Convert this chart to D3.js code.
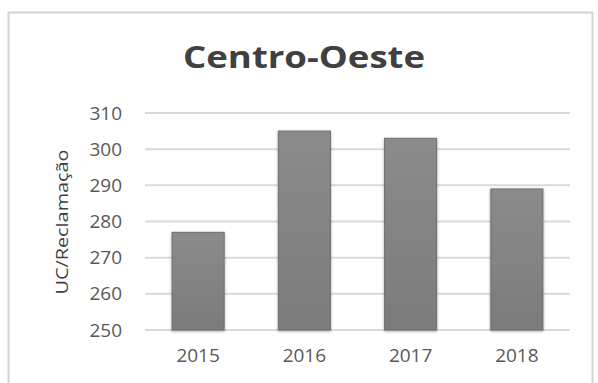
<!DOCTYPE html>
<html><head><meta charset="utf-8">
<script src="https://cdn.jsdelivr.net/npm/d3@7"></script>
<style>html,body{margin:0;padding:0;background:#fff;}</style>
</head><body>
<svg id="c" width="598" height="383"></svg>
<script>
const categories = ["2015", "2016", "2017", "2018"];
const values = [277, 305, 303, 289];
const yTicks = [250, 260, 270, 280, 290, 300, 310];
const title = "Centro-Oeste";
const yTitle = "UC/Reclamação";

const svg = d3.select("#c");
const font = "'Open Sans', 'Liberation Sans', sans-serif";

const defs = svg.append("defs");
const grad = defs.append("linearGradient").attr("id","bg").attr("x1",0).attr("y1",0).attr("x2",0).attr("y2",1);
grad.append("stop").attr("offset","0%").attr("stop-color","#8b8b8b");
grad.append("stop").attr("offset","100%").attr("stop-color","#7b7b7b");
const f = defs.append("filter").attr("id","sh").attr("x","-20%").attr("y","-20%").attr("width","140%").attr("height","140%");
f.append("feGaussianBlur").attr("in","SourceAlpha").attr("stdDeviation",1.5).attr("result","b");
f.append("feOffset").attr("in","b").attr("dx",0).attr("dy",1).attr("result","o");
f.append("feComponentTransfer").attr("in","o").attr("result","o2").append("feFuncA").attr("type","linear").attr("slope",0.35);
const m = f.append("feMerge"); m.append("feMergeNode").attr("in","o2"); m.append("feMergeNode").attr("in","SourceGraphic");

// border
svg.append("rect").attr("x",8.5).attr("y",12.5).attr("width",584).attr("height",380)
  .attr("fill","#fff").attr("stroke","#d4d4d4").attr("stroke-width",2);

const x = d3.scaleBand().domain(categories).range([145, 570]).paddingInner(0.51).paddingOuter(0.255);
const y = d3.scaleLinear().domain([250, 310]).range([330, 113]);

// gridlines
svg.append("g").selectAll("line").data(yTicks).join("line")
  .attr("x1",145).attr("x2",570).attr("y1",d=>y(d)).attr("y2",d=>y(d))
  .attr("stroke","#d9d9d9").attr("stroke-width",2);

// y axis labels
const yAxis = d3.axisLeft(y).tickValues(yTicks).tickSize(0).tickPadding(0).tickFormat(d3.format("d"));
const ga = svg.append("g").attr("transform","translate(122,0)").call(yAxis);
ga.select(".domain").remove();
ga.selectAll("text").attr("font-family",font).attr("font-size",19).attr("fill","#595959");

// bars
svg.append("g").selectAll("rect").data(values).join("rect")
  .attr("x",(d,i)=>x(categories[i])).attr("width",x.bandwidth())
  .attr("y",d=>y(d)).attr("height",d=>y(250)-y(d))
  .attr("fill","url(#bg)").attr("stroke","#6e6e6e").attr("stroke-width",1)
  .attr("filter","url(#sh)");

// x axis labels
const xAxis = d3.axisBottom(x).tickSize(0).tickPadding(0);
const gx = svg.append("g").attr("transform","translate(0,348)").call(xAxis);
gx.select(".domain").remove();
gx.selectAll("text").attr("font-family",font).attr("font-size",19).attr("fill","#595959");

// title
svg.append("text").attr("x",304).attr("y",68).attr("text-anchor","middle")
  .attr("font-family",font).attr("font-weight","bold").attr("font-size",31).attr("fill","#404040")
  .attr("textLength",242).attr("lengthAdjust","spacingAndGlyphs").text(title);

// y title
svg.append("text").attr("transform","translate(68,222) rotate(-90)").attr("text-anchor","middle")
  .attr("font-family",font).attr("font-size",16).attr("fill","#404040")
  .attr("textLength",145).attr("lengthAdjust","spacingAndGlyphs").text(yTitle);
</script>
</body></html>
